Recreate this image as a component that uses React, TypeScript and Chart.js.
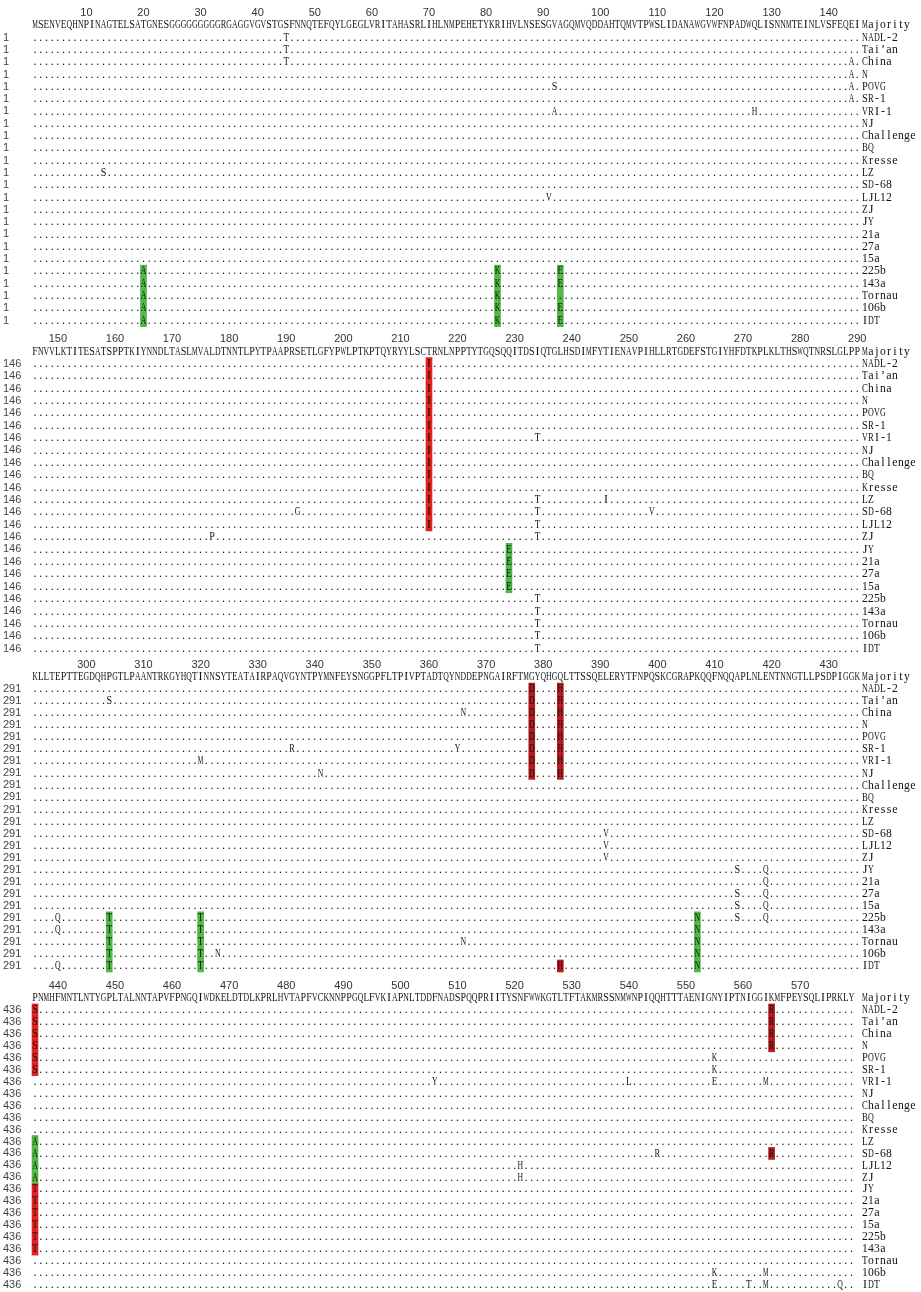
import React, { useEffect, useRef } from "react";
import { Chart, registerables } from "chart.js";

Chart.register(...registerables);

// ---------------- data ----------------
const strains = [
  "NADL-2", "Tai’an", "China", "N", "POVG", "SR-1", "VRI-1", "NJ", "Challenge", "BQ", "Kresse", "LZ",
  "SD-68", "LJL12", "ZJ", "JY", "21a", "27a", "15a", "225b", "143a", "Tornau", "106b", "IDT",
];

const blockStarts = [1, 146, 291, 436];

const rulerTicks1 = [10, 20, 30, 40, 50, 60, 70, 80, 90, 100, 110, 120, 130, 140];
const rulerTicks2 = [150, 160, 170, 180, 190, 200, 210, 220, 230, 240, 250, 260, 270, 280, 290];
const rulerTicks3 = [300, 310, 320, 330, 340, 350, 360, 370, 380, 390, 400, 410, 420, 430];
const rulerTicks4 = [440, 450, 460, 470, 480, 490, 500, 510, 520, 530, 540, 550, 560, 570];

const majority1 = [
  "MSENVEQHNP", "INAGTELSAT", "GNESGGGGGG", "GGGRGAGGVG", "VSTGSFNNQT", "EFQYLGEGLV", "RITAHASRLI",
  "HLNMPEHETY", "KRIHVLNSES", "GVAGQMVQDD", "AHTQMVTPWS", "LIDANAWGVW", "FNPADWQLIS", "NNMTEINLVS", "FEQEI",
].join("");
const majority2 = [
  "FNVVLKTITE", "SATSPPTKIY", "NNDLTASLMV", "ALDTNNTLPY", "TPAAPRSETL", "GFYPWLPTKP", "TQYRYYLSCT",
  "RNLNPPTYTG", "QSQQITDSIQ", "TGLHSDIMFY", "TIENAVPIHL", "LRTGDEFSTG", "IYHFDTKPLK", "LTHSWQTNRS", "LGLPP",
].join("");
const majority3 = [
  "KLLTEPTTEG", "DQHPGTLPAA", "NTRKGYHQTI", "NNSYTEATAI", "RPAQVGYNTP", "YMNFEYSNGG", "PFLTPIVPTA",
  "DTQYNDDEPN", "GAIRFTMGYQ", "HGQLTTSSQE", "LERYTFNPQS", "KCGRAPKQQF", "NQQAPLNLEN", "TNNGTLLPSD", "PIGGK",
].join("");
const majority4 = [
  "PNMHFMNTLN", "TYGPLTALNN", "TAPVFPNGQI", "WDKELDTDLK", "PRLHVTAPFV", "CKNNPPGQLF", "VKIAPNLTDD",
  "FNADSPQQPR", "IITYSNFWWK", "GTLTFTAKMR", "SSNMWNPIQQ", "HTTTAENIGN", "YIPTNIGGIK", "MFPEYSQLIP", "RKLY",
].join("");

// substitutions: [first strain, last strain, position, residue]
type Sub = [string, string, number, string];
const subs1: Sub[] = [
  ["NADL-2", "China", 45, "T"],
  ["China", "SR-1", 144, "A"],
  ["POVG", "POVG", 92, "S"],
  ["VRI-1", "VRI-1", 92, "A"],
  ["VRI-1", "VRI-1", 127, "H"],
  ["LZ", "LZ", 13, "S"],
  ["LJL12", "LJL12", 91, "V"],
  ["225b", "IDT", 20, "A"],
  ["225b", "IDT", 82, "K"],
  ["225b", "143a", 93, "E"],
  ["106b", "IDT", 93, "E"],
];
const subs2: Sub[] = [
  ["NADL-2", "LJL12", 215, "I"],
  ["ZJ", "ZJ", 177, "P"],
  ["SD-68", "SD-68", 192, "G"],
  ["JY", "15a", 229, "E"],
  ["VRI-1", "VRI-1", 234, "T"],
  ["LZ", "ZJ", 234, "T"],
  ["225b", "IDT", 234, "T"],
  ["LZ", "LZ", 246, "I"],
  ["SD-68", "SD-68", 254, "V"],
];
const subs3: Sub[] = [
  ["225b", "143a", 295, "Q"],
  ["IDT", "IDT", 295, "Q"],
  ["Tai’an", "Tai’an", 304, "S"],
  ["225b", "IDT", 304, "T"],
  ["VRI-1", "VRI-1", 320, "M"],
  ["225b", "IDT", 320, "T"],
  ["106b", "106b", 323, "N"],
  ["SR-1", "SR-1", 336, "R"],
  ["NJ", "NJ", 341, "N"],
  ["SR-1", "SR-1", 365, "Y"],
  ["China", "China", 366, "N"],
  ["Tornau", "Tornau", 366, "N"],
  ["NADL-2", "NJ", 378, "D"],
  ["NADL-2", "NJ", 383, "H"],
  ["IDT", "IDT", 383, "H"],
  ["SD-68", "ZJ", 391, "V"],
  ["225b", "IDT", 407, "N"],
  ["JY", "JY", 414, "S"],
  ["27a", "225b", 414, "S"],
  ["JY", "225b", 419, "Q"],
];
const subs4: Sub[] = [
  ["NADL-2", "SR-1", 436, "S"],
  ["LZ", "ZJ", 436, "A"],
  ["JY", "143a", 436, "T"],
  ["VRI-1", "VRI-1", 506, "Y"],
  ["LJL12", "ZJ", 521, "H"],
  ["VRI-1", "VRI-1", 540, "L"],
  ["SD-68", "SD-68", 545, "R"],
  ["POVG", "SR-1", 555, "K"],
  ["VRI-1", "VRI-1", 555, "E"],
  ["106b", "106b", 555, "K"],
  ["IDT", "IDT", 555, "E"],
  ["IDT", "IDT", 561, "T"],
  ["VRI-1", "VRI-1", 564, "M"],
  ["106b", "IDT", 564, "M"],
  ["NADL-2", "N", 565, "R"],
  ["SD-68", "SD-68", 565, "R"],
  ["IDT", "IDT", 577, "Q"],
];

// highlighted columns: [position, first strain, last strain, kind]
type Mark = [number, string, string, string];
const marks1: Mark[] = [
  [20, "225b", "IDT", "green"],
  [82, "225b", "IDT", "green"],
  [93, "225b", "IDT", "green"],
];
const marks2: Mark[] = [
  [215, "NADL-2", "LJL12", "red"],
  [229, "JY", "15a", "green"],
];
const marks3: Mark[] = [
  [378, "NADL-2", "NJ", "darkred"],
  [383, "NADL-2", "NJ", "darkred"],
  [383, "IDT", "IDT", "darkred"],
  [304, "225b", "IDT", "green"],
  [320, "225b", "IDT", "green"],
  [407, "225b", "IDT", "green"],
];
const marks4: Mark[] = [
  [436, "NADL-2", "SR-1", "red"],
  [436, "LZ", "ZJ", "green"],
  [436, "JY", "143a", "red"],
  [565, "NADL-2", "N", "darkred"],
  [565, "SD-68", "SD-68", "darkred"],
];

const blocks = [
  { start: blockStarts[0], seq: majority1, ticks: rulerTicks1, subs: subs1, marks: marks1 },
  { start: blockStarts[1], seq: majority2, ticks: rulerTicks2, subs: subs2, marks: marks2 },
  { start: blockStarts[2], seq: majority3, ticks: rulerTicks3, subs: subs3, marks: marks3 },
  { start: blockStarts[3], seq: majority4, ticks: rulerTicks4, subs: subs4, marks: marks4 },
];

// ---------------- layout & style ----------------
const W = 921;
const PITCH_X = 5.71;
const X0 = 35;
const NAME_X = 862;
const NAME_PITCH = 6;
const NUM_X = 3;
const CHAR_MAX = 5.6;

const layouts = [
  { top: 0, height: 331, rulerY: 13, pitch: 12.3 },
  { top: 331, height: 327, rulerY: 339, pitch: 12.38 },
  { top: 658, height: 322, rulerY: 665, pitch: 12.04 },
  { top: 980, height: 312, rulerY: 986, pitch: 11.96 },
];

const COLORS: Record<string, string> = {
  green: "#52b947",
  red: "#e2231f",
  darkred: "#b81b1d",
};

const SEQ_FONT = '12px "Liberation Serif", "DejaVu Serif", serif';
const NUM_FONT = '11px "Liberation Sans", Arial, sans-serif';

const rowIndex = (s: string) => 2 + strains.indexOf(s);

function makeTextPlugin(block: (typeof blocks)[number]) {
  return {
    id: "alignText",
    afterDatasetsDraw(chart: any) {
      const ctx: CanvasRenderingContext2D = chart.ctx;
      const xs = chart.scales.x;
      const ys = chart.scales.y;
      const n = block.seq.length;
      ctx.save();
      ctx.textBaseline = "middle";

      // ruler
      ctx.font = NUM_FONT;
      ctx.textAlign = "center";
      ctx.fillStyle = "#333";
      block.ticks.forEach((t) => ctx.fillText(String(t), xs.getPixelForValue(t), ys.getPixelForValue(0)));

      const drawName = (name: string, line: number) => {
        ctx.font = SEQ_FONT;
        ctx.textAlign = "center";
        ctx.fillStyle = "#111";
        const y = ys.getPixelForValue(line);
        name.split("").forEach((c, k) => ctx.fillText(c, NAME_X + (k + 0.5) * NAME_PITCH, y, NAME_PITCH - 0.2));
      };
      const drawRow = (chars: string[], line: number) => {
        ctx.font = SEQ_FONT;
        ctx.textAlign = "center";
        ctx.fillStyle = "#111";
        const y = ys.getPixelForValue(line);
        chars.forEach((c, k) => ctx.fillText(c, xs.getPixelForValue(block.start + k), y, CHAR_MAX));
      };

      drawRow(block.seq.split(""), 1);
      drawName("Majority", 1);

      strains.forEach((s, i) => {
        const chars = Array.from({ length: n }, () => ".");
        block.subs.forEach(([a, b, pos, aa]) => {
          const ia = strains.indexOf(a);
          const ib = strains.indexOf(b);
          if (i >= ia && i <= ib) chars[pos - block.start] = aa;
        });
        const line = 2 + i;
        drawRow(chars, line);
        ctx.font = NUM_FONT;
        ctx.textAlign = "left";
        ctx.fillStyle = "#444";
        ctx.fillText(String(block.start), NUM_X, ys.getPixelForValue(line));
        drawName(s, line);
      });
      ctx.restore();
    },
  };
}

function BlockChart({ index }: { index: number }) {
  const ref = useRef<HTMLCanvasElement>(null);
  const L = layouts[index];
  useEffect(() => {
    const block = blocks[index];
    const xMin = block.start - X0 / PITCH_X;
    const xMax = xMin + W / PITCH_X;
    const yMin = -(L.rulerY - L.top) / L.pitch;
    const yMax = yMin + L.height / L.pitch;
    const kinds = ["green", "red", "darkred"];
    const chart = new Chart(ref.current as HTMLCanvasElement, {
      type: "bar",
      data: {
        datasets: kinds.map((k) => ({
          label: k,
          data: block.marks
            .filter((m) => m[3] === k)
            .map((m) => ({ x: m[0], y: [rowIndex(m[1]) - 0.5, rowIndex(m[2]) + 0.5] })),
          backgroundColor: COLORS[k],
          borderWidth: 0,
          barThickness: 6,
          grouped: false,
        })) as any,
      },
      options: {
        responsive: false,
        animation: false,
        events: [],
        layout: { padding: 0 },
        plugins: { legend: { display: false }, tooltip: { enabled: false } },
        scales: {
          x: { type: "linear", display: false, min: xMin, max: xMax, offset: false, grid: { offset: false } },
          y: { type: "linear", display: false, min: yMin, max: yMax, reverse: true },
        },
      } as any,
      plugins: [makeTextPlugin(block)],
    });
    return () => chart.destroy();
  }, [index]);
  return (
    <canvas
      ref={ref}
      width={W}
      height={L.height}
      style={{ position: "absolute", left: 0, top: L.top, width: W, height: L.height }}
    />
  );
}

export default function App() {
  return (
    <div style={{ position: "absolute", left: 0, top: 0, width: W, height: 1292, background: "#fff" }}>
      {blocks.map((_, i) => (
        <BlockChart key={i} index={i} />
      ))}
    </div>
  );
}
